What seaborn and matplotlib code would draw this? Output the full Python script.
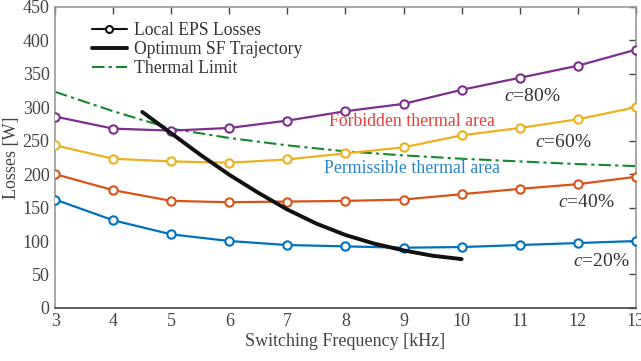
import numpy as np
import pandas as pd
import seaborn as sns
import matplotlib.pyplot as plt
from matplotlib.lines import Line2D

# Switching frequency [kHz]
freq = [3, 4, 5, 6, 7, 8, 9, 10, 11, 12, 13]

# Local EPS losses [W] for each load level c
loss_c20 = [162, 131, 110, 100, 94, 92, 90, 91, 94, 97, 100]
loss_c40 = [200, 176, 160, 158, 159, 160, 162, 170, 178, 185, 196]
loss_c60 = [243, 223, 219, 217, 222, 231, 240, 258, 269, 282, 300]
loss_c80 = [286, 268, 265, 269, 280, 294, 305, 326, 344, 362, 386]

# Thermal limit [W]
thermal_limit = [323, 294, 268, 254, 243, 234, 228, 223, 219, 215, 212]

# Optimum switching-frequency trajectory
opt_freq = [4.5, 5.0, 5.5, 6.0, 6.5, 7.0, 7.5, 8.0, 8.5, 9.0, 9.5, 10.0]
opt_loss = [293, 261, 229, 199, 172, 147, 126, 109, 96, 86, 78, 73]

labels = ['$c$=20%', '$c$=40%', '$c$=60%', '$c$=80%']
colors = ['#0072BD', '#D95319', '#EDB120', '#7E2F8E']

df = pd.DataFrame({'freq': freq, '$c$=20%': loss_c20, '$c$=40%': loss_c40,
                   '$c$=60%': loss_c60, '$c$=80%': loss_c80})
long_df = df.melt(id_vars='freq', var_name='load', value_name='loss')

sns.set_style('white')
plt.rcParams['font.family'] = ['Liberation Serif', 'DejaVu Serif']
plt.rcParams['mathtext.fontset'] = 'custom'
plt.rcParams['mathtext.it'] = 'Liberation Serif:italic'
plt.rcParams['mathtext.rm'] = 'Liberation Serif'
plt.rcParams['font.size'] = 12.5

fig, ax = plt.subplots(figsize=(6.41, 3.61), dpi=100)
fig.subplots_adjust(left=0.086, right=0.992, top=0.981, bottom=0.147)

# Thermal limit
sns.lineplot(x=freq, y=thermal_limit, ax=ax, color='#14892C', lw=1.5,
             linestyle=(0, (6, 2, 1.5, 2)), zorder=2)

# Loss curves
sns.lineplot(data=long_df, x='freq', y='loss', hue='load', hue_order=labels,
             palette=colors, marker='o', markersize=6, markerfacecolor='white',
             markeredgewidth=1.5, lw=1.6, legend=False, ax=ax, zorder=3)
for line in ax.lines[1:]:
    line.set_markeredgecolor(line.get_color())

# Optimum trajectory
sns.lineplot(x=opt_freq, y=opt_loss, ax=ax, color='#111111', lw=2.8, zorder=4)
ax.lines[-1].set_solid_joinstyle('round')

# Legend proxies
handles = [
    Line2D([], [], color='#111111', lw=1.5, marker='o', markersize=5,
           markerfacecolor='white', markeredgewidth=1.5),
    Line2D([], [], color='#111111', lw=2.8),
    Line2D([], [], color='#14892C', lw=1.5, linestyle=(0, (6, 2, 1.5, 2))),
]
ax.legend(handles, ['Local EPS Losses', 'Optimum SF Trajectory', 'Thermal Limit'],
          loc='upper left', bbox_to_anchor=(0.045, 0.985), frameon=False,
          handlelength=2.0, handletextpad=0.4, labelspacing=0.12, fontsize=12.7,
          labelcolor='#333333', borderaxespad=0.2)

# Annotations
txt_color = '#333333'
ax.text(11.22, 316, '$c$=80%', ha='center', va='center', fontsize=14, color=txt_color)
ax.text(11.75, 248, '$c$=60%', ha='center', va='center', fontsize=14, color=txt_color)
ax.text(12.15, 157, '$c$=40%', ha='center', va='center', fontsize=14, color=txt_color)
ax.text(12.4, 70, '$c$=20%', ha='center', va='center', fontsize=14, color=txt_color)
ax.text(9.15, 278, 'Forbidden thermal area', ha='center', va='center',
        fontsize=12.8, color='#E8403A')
ax.text(9.14, 208, 'Permissible thermal area', ha='center', va='center',
        fontsize=12.8, color='#2A86C8')

ax.set_xlim(3, 13)
ax.set_ylim(0, 450)
ax.set_xticks(range(3, 14))
ax.set_yticks(range(0, 451, 50))
ax.set_xlabel('Switching Frequency [kHz]', color='#444444', labelpad=2, fontsize=13)
ax.set_ylabel('Losses [W]', color='#444444', labelpad=2, fontsize=13)
ax.tick_params(direction='in', length=5, width=1, colors='#444444',
               top=True, right=True, labelsize=13, pad=4)

for side in ['left', 'top', 'right']:
    ax.spines[side].set_color('#999999')
ax.spines['bottom'].set_color('#444444')
for s in ax.spines.values():
    s.set_linewidth(1.2)

fig.savefig('out.png', dpi=100)
